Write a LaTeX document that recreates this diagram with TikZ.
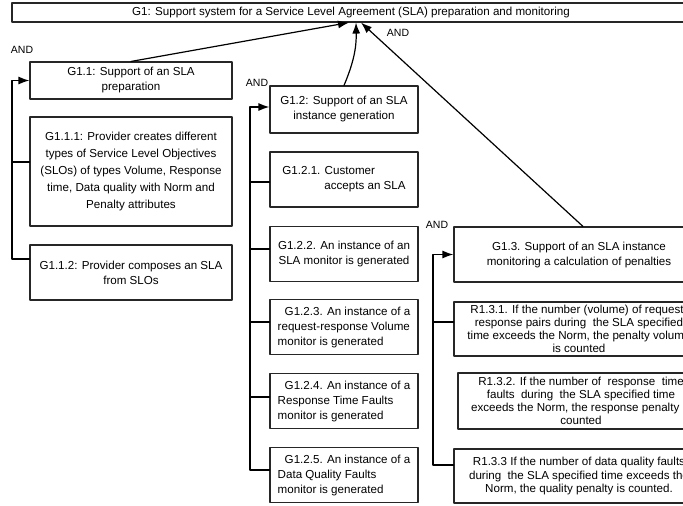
\documentclass[tikz,border=0pt]{standalone}
\usepackage{fontspec}
\setmainfont{Liberation Sans}
\usetikzlibrary{arrows.meta}

\begin{document}
\begin{tikzpicture}[x=1pt,y=-1pt,line cap=round,line join=round,
  >={Latex[length=11pt,width=8pt]},
  goal/.style={draw=black!85,line width=1.1pt,rectangle,inner sep=1pt,align=center,
    font=\fontsize{11.6}{15}\selectfont},
  rule/.style={goal,font=\fontsize{11.6}{13.2}\selectfont},
  bus/.style={line width=1.5pt},
  link/.style={line width=1.2pt},
  andtag/.style={inner sep=0pt,font=\fontsize{10.5}{12}\selectfont}]
  \useasboundingbox (0,0) rectangle (683,506);
  \clip (0,0) rectangle (683,506);
  \node[goal,minimum width=678,minimum height=19] (g1) at (351,12.5)
    {G1: Support system for a Service Level Agreement (SLA) preparation and monitoring};
  \node[goal,minimum width=202,minimum height=37] (g11) at (131,80.5)
    {G1.1: Support of an SLA\\preparation};
  \node[goal,font=\fontsize{11.6}{17}\selectfont,minimum width=202,minimum height=109] (g111) at (131,171.5)
    {G1.1.1: Provider creates different\\types of Service Level Objectives\\(SLOs) of types Volume, Response\\time, Data quality with Norm and\\Penalty attributes};
  \node[goal,minimum width=202,minimum height=55] (g112) at (131,272.5)
    {G1.1.2: Provider composes an SLA\\from SLOs};
  \node[goal,minimum width=148,minimum height=47] (g12) at (344,109.5)
    {G1.2: Support of an SLA\\instance generation};
  \node[goal,align=left,minimum width=148,minimum height=55] (g121) at (344,179.5)
    {G1.2.1. Customer\\\hspace*{42pt}accepts an SLA};
  \node[goal,minimum width=148,minimum height=55] (g122) at (344,254)
    {G1.2.2. An instance of an\\SLA monitor is generated};
  \node[goal,align=left,minimum width=148,minimum height=55] (g123) at (344,327)
    {\hspace*{7pt}G1.2.3. An instance of a\\request-response Volume\\monitor is generated};
  \node[goal,align=left,minimum width=148,minimum height=55] (g124) at (344,401)
    {\hspace*{7pt}G1.2.4. An instance of a\\Response Time Faults\\monitor is generated};
  \node[goal,align=left,minimum width=148,minimum height=55] (g125) at (344,475)
    {\hspace*{7pt}G1.2.5. An instance of a\\Data Quality Faults\\monitor is generated};
  \node[goal,minimum width=250,minimum height=55] (g13) at (579,254.5)
    {G1.3. Support of an SLA instance\\monitoring a calculation of penalties};
  \node[rule,minimum width=250,minimum height=54] (r131) at (579,329)
    {R1.3.1. If the number (volume) of request-\\response pairs during\ \ the SLA specified\\time exceeds the Norm, the penalty volume\\is counted};
  \node[rule,minimum width=246,minimum height=56] (r132) at (581,401)
    {R1.3.2. If the number of\ \ response\ \ time\\faults\ \ during\ \ the SLA specified time\\exceeds the Norm, the response penalty is\\counted};
  \node[rule,minimum width=250,minimum height=54] (r133) at (579,476)
    {R1.3.3 If the number of data quality faults\\during\ \ the SLA specified time exceeds the\\Norm, the quality penalty is counted.};
  \coordinate (lbus) at (12,80);
  \coordinate (mbus) at (250,107);
  \coordinate (rbus) at (433,256);
  \coordinate (g12in) at ([yshift=2.5]g12.west);
  \draw[bus,->] ([yshift=13.5]g112.west) -| (lbus |- g11.west) -- (g11.west);
  \draw[bus] ([yshift=9.5]g111.west) -- ([yshift=9.5]g111.west -| lbus);
  \draw[bus,->] ([yshift=5]g125.west) -| (mbus |- g12in) -- (g12in);
  \draw[bus] ([yshift=-2.5]g121.west) -- ([yshift=-2.5]g121.west -| mbus);
  \draw[bus] ([yshift=5]g122.west) -- ([yshift=5]g122.west -| mbus);
  \draw[bus] ([yshift=5]g123.west) -- ([yshift=5]g123.west -| mbus);
  \draw[bus] ([yshift=4]g124.west) -- ([yshift=4]g124.west -| mbus);
  \draw[bus,->] ([yshift=11]r133.west) -| (rbus |- g13.west) -- (g13.west);
  \draw[bus] ([yshift=7]r131.west) -- ([yshift=7]r131.west -| rbus);
  \draw[link,->] (g11.north) -- ([xshift=-2]g1.south);
  \draw[link,->] (g12.north) to[bend right=12] ([xshift=5]g1.south);
  \draw[link,->] ([xshift=4]g13.north) -- ([xshift=10]g1.south);
  \node[andtag] (and1) at (22,50) {AND};
  \node[andtag] (and2) at (257,83) {AND};
  \node[andtag] (and3) at (437,225) {AND};
  \node[andtag] (and0) at (398,33) {AND};
\end{tikzpicture}
\end{document}
